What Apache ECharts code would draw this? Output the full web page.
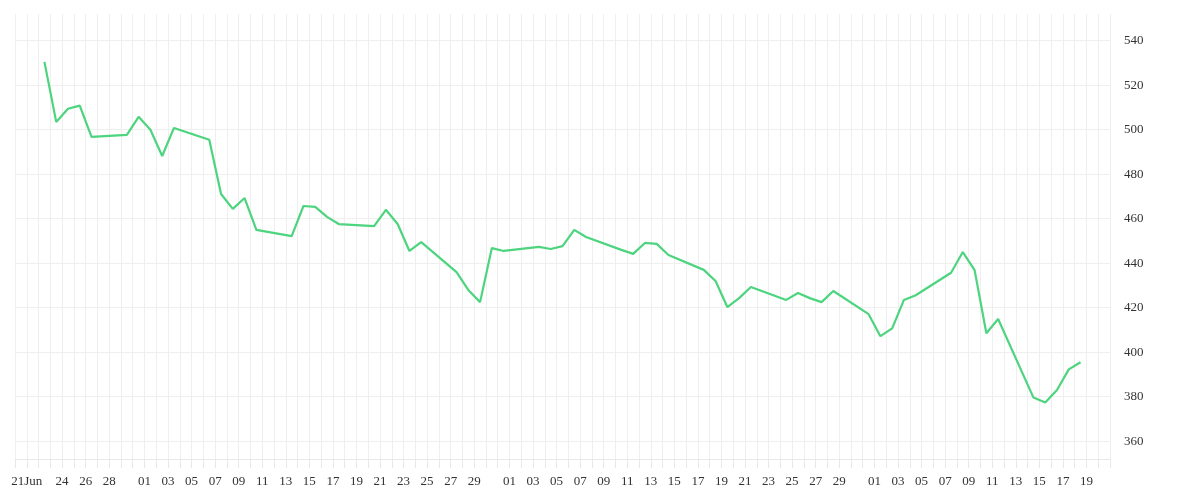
<!DOCTYPE html>
<html><head><meta charset="utf-8">
<script src="https://cdn.jsdelivr.net/npm/echarts@6/dist/echarts.min.js"></script>
<style>html,body{margin:0;padding:0;background:#fff}#c{width:1200px;height:500px}</style>
</head><body><div id="c"></div>
<script>
// day index 0 = 2020-06-20
const dates = ["2020-06-22","2020-06-23","2020-06-24","2020-06-25","2020-06-26","2020-06-29","2020-06-30","2020-07-01","2020-07-02","2020-07-03","2020-07-06","2020-07-07","2020-07-08","2020-07-09","2020-07-10","2020-07-13","2020-07-14","2020-07-15","2020-07-16","2020-07-17","2020-07-20","2020-07-21","2020-07-22","2020-07-23","2020-07-24","2020-07-27","2020-07-28","2020-07-29","2020-07-30","2020-07-31","2020-08-03","2020-08-04","2020-08-05","2020-08-06","2020-08-07","2020-08-10","2020-08-11","2020-08-12","2020-08-13","2020-08-14","2020-08-17","2020-08-18","2020-08-19","2020-08-20","2020-08-21","2020-08-24","2020-08-25","2020-08-26","2020-08-27","2020-08-28","2020-08-31","2020-09-01","2020-09-02","2020-09-03","2020-09-04","2020-09-07","2020-09-08","2020-09-09","2020-09-10","2020-09-11","2020-09-14","2020-09-15","2020-09-16","2020-09-17","2020-09-18"];
const values = [530.5,503.5,509.4,510.8,496.8,497.7,505.8,500,488.2,500.8,495.5,471.1,464.4,469.3,455,452.2,465.7,465.3,460.8,457.6,456.7,464,457.6,445.5,449.5,436,428,422.5,446.8,445.5,447.3,446.4,447.7,455,451.8,446,444.2,449.1,448.7,443.7,437,432,420.3,424.3,429.3,423.5,426.6,424.3,422.5,427.5,417.1,407.2,410.7,423.5,425.6,435.7,445,436.9,408.5,414.9,379.6,377.4,383,392.3,395.5];
const yTicks = [360,380,400,420,440,460,480,500,520,540];

const base = Date.UTC(2020,5,20);
const DAY = 86400000;
function idx(d){ return Math.round((Date.parse(d+"T00:00:00Z")-base)/DAY); }
const data = dates.map((d,i)=>[idx(d)+0.5, values[i]]);
function xlab(v){
  const dt = new Date(base + Math.round(v)*DAY);
  const m = dt.getUTCMonth(), d = dt.getUTCDate();
  const dd = (d<10?'0':'')+d;
  if (m===5){
    if (d===21) return '21Jun';
    if (d===24||d===26||d===28) return dd;
    return '';
  }
  if (m===8 && d>19) return '';
  if (d%2===1 && d<31) return dd;
  return '';
}
const chart = echarts.init(document.getElementById('c'));
chart.setOption({
  animation:false,
  grid:{left:15,right:90,top:14,bottom:41},
  xAxis:{type:'value',min:0,max:93,interval:1,
    axisLine:{lineStyle:{color:'#e8e8e8'}},
    axisTick:{show:true,length:9,lineStyle:{color:'#e8e8e8'}},
    splitLine:{show:true,lineStyle:{color:'#efefef'}},
    axisLabel:{formatter:xlab,color:'#333',fontFamily:'Liberation Serif',fontSize:13,margin:16,showMinLabel:true,showMaxLabel:true}
  },
  yAxis:{type:'value',position:'right',min:352,max:552,
    axisLine:{show:false},
    axisTick:{show:false,customValues:yTicks},
    splitLine:{show:true,lineStyle:{color:'#efefef'}},
    axisLabel:{customValues:yTicks,color:'#333',fontFamily:'Liberation Serif',fontSize:13,margin:14}
  },
  series:[{type:'line',data:data,showSymbol:false,lineStyle:{color:'#4cd47e',width:2.2},itemStyle:{color:'#4cd47e'}}]
});
</script></body></html>
